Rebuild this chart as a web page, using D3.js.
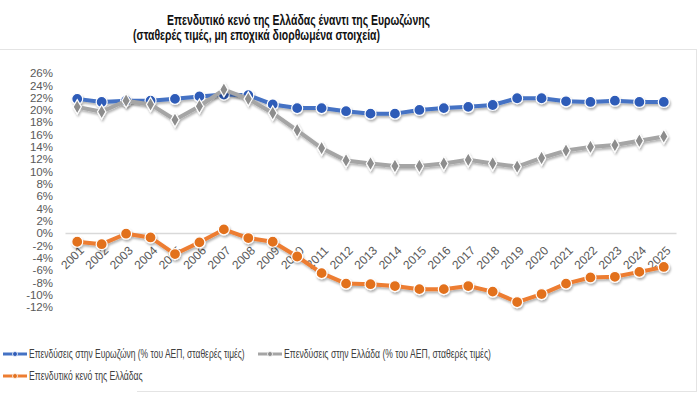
<!DOCTYPE html>
<html>
<head>
<meta charset="utf-8">
<script src="https://cdn.jsdelivr.net/npm/d3@7"></script>
<style>
  body { margin: 0; background: #fff; }
  svg { display: block; font-family: "Liberation Sans", Arial, sans-serif; }
  .y-axis text { fill: #595959; font-size: 11.5px; }
  .x-axis text { fill: #595959; font-size: 12px; }
  .legend text { fill: #404040; font-size: 12px; }
</style>
</head>
<body>
<div id="chart"></div>
<script>
// Years on the x axis
var years = ["2001","2002","2003","2004","2005","2006","2007","2008","2009","2010","2011","2012",
             "2013","2014","2015","2016","2017","2018","2019","2020","2021","2022","2023","2024","2025"];

// Investment, % of GDP (constant prices)
var eurozone = [21.8,21.3,21.5,21.5,21.8,22.2,22.5,22.4,20.9,20.3,20.3,19.8,
                19.4,19.4,20.0,20.3,20.5,20.8,21.9,21.9,21.4,21.3,21.5,21.3,21.3];
var greece = [20.5,19.7,21.5,20.9,18.4,20.6,23.3,21.8,19.5,16.7,13.8,11.8,
              11.3,10.9,10.9,11.3,11.9,11.3,10.8,12.2,13.4,14.0,14.3,15.0,15.7];
// Investment gap of Greece
var gap = [-1.4,-1.8,-0.1,-0.7,-3.4,-1.5,0.6,-0.8,-1.4,-3.8,-6.5,-8.2,
           -8.3,-8.6,-9.1,-9.1,-8.6,-9.5,-11.2,-9.9,-8.2,-7.2,-7.1,-6.3,-5.5];

var yTicks = [-12,-10,-8,-6,-4,-2,0,2,4,6,8,10,12,14,16,18,20,22,24,26];

var seriesNames = ["Επενδύσεις στην Ευρωζώνη (% του ΑΕΠ, σταθερές τιμές)",
                   "Επενδύσεις στην Ελλάδα (% του ΑΕΠ, σταθερές τιμές)",
                   "Επενδυτικό κενό της Ελλάδας"];

var width = 700, height = 395;

var svg = d3.select("#chart")
    .append("svg")
        .attr("width", width)
        .attr("height", height);

// soft shadow like the original
var defs = svg.append("defs");
var f = defs.append("filter").attr("id", "shadow")
    .attr("x", "-10%").attr("y", "-10%").attr("width", "120%").attr("height", "140%");
f.append("feDropShadow").attr("dx", 1).attr("dy", 2).attr("stdDeviation", 1.2)
    .attr("flood-color", "#000").attr("flood-opacity", 0.3);

// chart frame lines
svg.append("line").attr("x1", 0).attr("x2", 697).attr("y1", 49.5).attr("y2", 49.5)
    .attr("stroke", "#e4e4e4");
svg.append("line").attr("x1", 696.5).attr("x2", 696.5).attr("y1", 49).attr("y2", 392)
    .attr("stroke", "#e4e4e4");
svg.append("line").attr("x1", 137).attr("x2", 697).attr("y1", 391.5).attr("y2", 391.5)
    .attr("stroke", "#e4e4e4");

// titles
svg.append("text").attr("x", 167).attr("y", 24.5)
    .attr("font-size", "14px").attr("font-weight", "bold").attr("fill", "#111")
    .attr("textLength", 263).attr("lengthAdjust", "spacingAndGlyphs")
    .text("Επενδυτικό κενό της Ελλάδας έναντι της Ευρωζώνης");
svg.append("text").attr("x", 133).attr("y", 40)
    .attr("font-size", "14px").attr("font-weight", "bold").attr("fill", "#111")
    .attr("textLength", 247).attr("lengthAdjust", "spacingAndGlyphs")
    .text("(σταθερές τιμές, μη εποχικά διορθωμένα στοιχεία)");

// scales
var x = d3.scalePoint().domain(years).range([65, 676]).padding(0.5);
var y = d3.scaleLinear().domain([-12, 26]).range([307, 73]);

// y axis
var yAxis = d3.axisLeft(y).tickValues(yTicks).tickSize(0).tickPadding(0)
    .tickFormat(function(d) { return d + "%"; });
svg.append("g")
    .attr("class", "y-axis")
    .attr("transform", "translate(53,0)")
    .call(yAxis)
    .call(function(g) { g.select(".domain").remove(); });

// x axis on the zero line
var xAxis = d3.axisBottom(x).tickSize(0).tickSizeOuter(0);
var xg = svg.append("g")
    .attr("class", "x-axis")
    .attr("transform", "translate(0," + y(0) + ")")
    .call(xAxis);
xg.select(".domain").attr("stroke", "#d9d9d9").attr("stroke-width", 1.5);
xg.selectAll("text")
    .attr("text-anchor", "end")
    .attr("dy", "0.35em")
    .attr("transform", "translate(2,13) rotate(-45)");

var line = d3.line()
    .x(function(d, i) { return x(years[i]); })
    .y(function(d) { return y(d); });

function drawSeries(data, lineColor, markColor, shape, size) {
    var g = svg.append("g").attr("filter", "url(#shadow)");
    g.append("path")
        .attr("d", line(data))
        .attr("fill", "none")
        .attr("stroke", lineColor)
        .attr("stroke-width", 4)
        .attr("stroke-linejoin", "round");
    g.selectAll("path.pt")
        .data(data)
        .enter().append("path")
        .attr("class", "pt")
        .attr("transform", function(d, i) { return "translate(" + x(years[i]) + "," + y(d) + ")"; })
        .attr("d", d3.symbol().type(shape).size(size))
        .attr("fill", markColor)
        .attr("stroke", "#fff")
        .attr("stroke-width", 1.2);
}

drawSeries(eurozone, "#4472c4", "#2f5cb8", d3.symbolCircle, 95);
drawSeries(greece, "#a5a5a5", "#8d8d8d", d3.symbolDiamond, 60);
drawSeries(gap, "#ed7d31", "#e2711f", d3.symbolCircle, 95);

// legend (narrow font in the original, so squeeze horizontally to its width)
var legendColors = ["#4472c4", "#a5a5a5", "#ed7d31"];
var legendMarks = ["#2f5cb8", "#8d8d8d", "#e2711f"];
var legendPos = [[3, 354], [258, 354], [3, 376]];
var legendWidth = [216, 207, 114];
var lg = svg.append("g").attr("class", "legend");
seriesNames.forEach(function(name, i) {
    var p = legendPos[i];
    lg.append("line").attr("x1", p[0]).attr("x2", p[0] + 24)
        .attr("y1", p[1]).attr("y2", p[1])
        .attr("stroke", legendColors[i]).attr("stroke-width", 3);
    lg.append("circle").attr("cx", p[0] + 12).attr("cy", p[1]).attr("r", 2.5)
        .attr("fill", legendMarks[i]).attr("stroke", "#fff").attr("stroke-width", 0.8);
    var t = lg.append("text").attr("dy", "0.35em").text(name);
    var k = legendWidth[i] / t.node().getComputedTextLength();
    t.attr("transform", "translate(" + (p[0] + 26) + "," + p[1] + ") scale(" + k + ",1)");
});
</script>
</body>
</html>
